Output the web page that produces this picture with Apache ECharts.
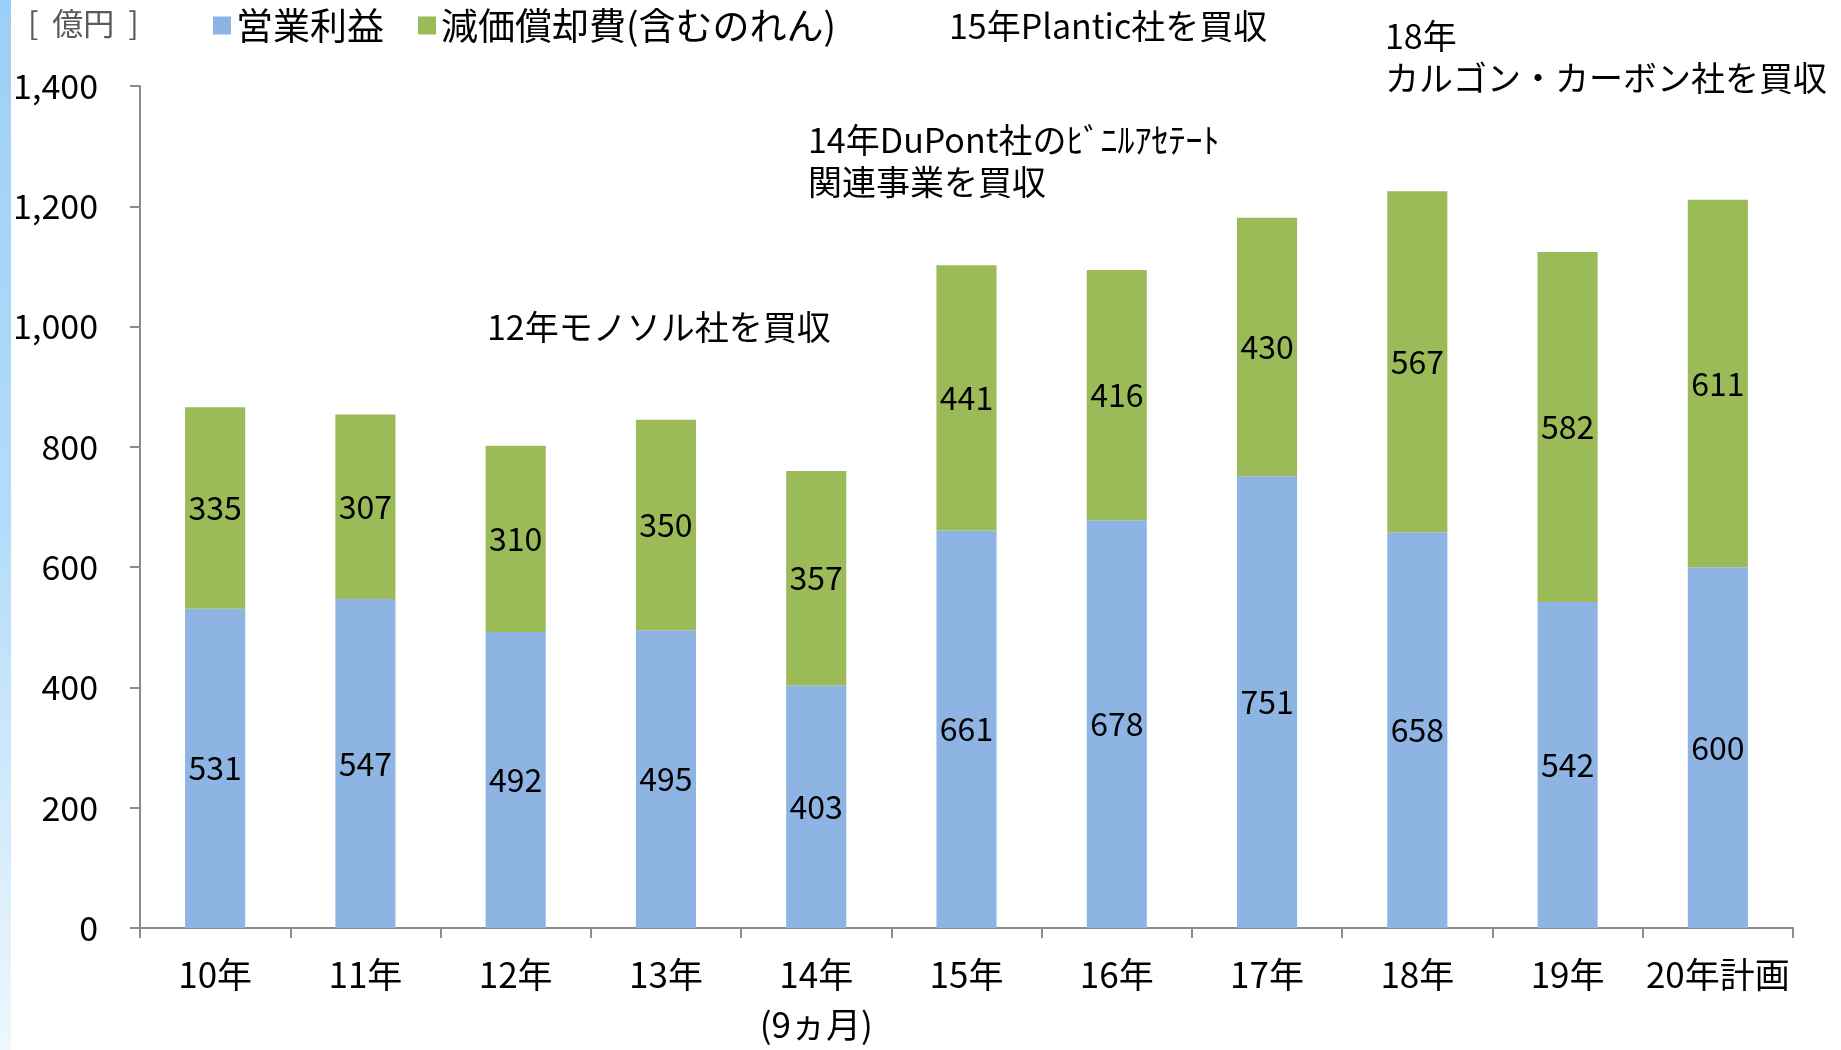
<!DOCTYPE html>
<html>
<head>
<meta charset="utf-8">
<script src="https://cdn.jsdelivr.net/npm/echarts@6/dist/echarts.min.js"></script>
<style>
  html, body { margin: 0; padding: 0; background: #fff; }
  #chart { width: 1841px; height: 1050px; }
</style>
</head>
<body>
<div id="chart"></div>
<script>
var categories = ['10年', '11年', '12年', '13年', '14年\n(9ヵ月)', '15年', '16年', '17年', '18年', '19年', '20年計画']
var operatingProfit = [531, 547, 492, 495, 403, 661, 678, 751, 658, 542, 600]
var depreciation = [335, 307, 310, 350, 357, 441, 416, 430, 567, 582, 611]
var seriesNames = ['営業利益', '減価償却費(含むのれん)']
var yTicks = { min: 0, max: 1400, interval: 200 }

var font = '"Noto Sans CJK JP", "Noto Sans", sans-serif'
var axisColor = '#8c8c8c'

var notes = [
  { text: '15年Plantic社を買収', x: 949, y: 5 },
  { text: '18年\nカルゴン・カーボン社を買収', x: 1385, y: 15 },
  { text: '14年DuPont社のﾋﾞﾆﾙｱｾﾃｰﾄ\n関連事業を買収', x: 808, y: 119 },
  { text: '12年モノソル社を買収', x: 487, y: 306 }
]

var chart = echarts.init(document.getElementById('chart'))

var graphics = [{
  type: 'rect',
  left: 0, top: 0,
  shape: { width: 11, height: 1050 },
  style: {
    fill: new echarts.graphic.LinearGradient(0, 0, 0, 1, [
      { offset: 0, color: '#9ccff7' },
      { offset: 0.5, color: '#b3dcf9' },
      { offset: 1, color: '#eef7fd' }
    ])
  },
  silent: true
}, {
  type: 'text',
  left: 28, top: 8,
  style: { text: '[  億円  ]', fill: '#5a5a5a', font: '31px ' + font }
}]

notes.forEach(function (n) {
  graphics.push({
    type: 'text',
    left: n.x, top: n.y,
    style: { text: n.text, fill: '#000', font: '34px ' + font, lineHeight: 42 }
  })
})

function barLabel() {
  return { show: true, position: 'inside', color: '#000', fontSize: 32, fontFamily: font }
}

var option = {
  animation: false,
  backgroundColor: '#fff',
  textStyle: { fontFamily: font },
  graphic: graphics,
  legend: {
    left: 208, top: 2,
    itemWidth: 18, itemHeight: 18, itemGap: 34, itemTextGap: 10,
    icon: 'rect',
    textStyle: { fontSize: 37, color: '#000', fontFamily: font },
    data: seriesNames
  },
  grid: { left: 140, right: 48, top: 86, bottom: 118, containLabel: false },
  xAxis: {
    type: 'category',
    data: categories,
    axisLine: { lineStyle: { color: axisColor, width: 2 } },
    axisTick: { show: true, length: 10, lineStyle: { color: axisColor, width: 2 } },
    axisLabel: { color: '#000', fontSize: 35, lineHeight: 50, margin: 22, interval: 0 }
  },
  yAxis: {
    type: 'value',
    min: yTicks.min, max: yTicks.max, interval: yTicks.interval,
    axisLine: { show: true, lineStyle: { color: axisColor, width: 2 } },
    axisTick: { show: true, length: 10, lineStyle: { color: axisColor, width: 2 } },
    splitLine: { show: false },
    axisLabel: {
      color: '#000', fontSize: 34, margin: 42,
      formatter: function (v) { return v.toLocaleString('en-US') }
    }
  },
  series: [{
    name: seriesNames[0],
    type: 'bar',
    stack: 'total',
    barWidth: '40%',
    data: operatingProfit,
    itemStyle: { color: '#8eb4e3' },
    label: barLabel()
  }, {
    name: seriesNames[1],
    type: 'bar',
    stack: 'total',
    barWidth: '40%',
    data: depreciation,
    itemStyle: { color: '#9bbb59' },
    label: barLabel()
  }]
}

chart.setOption(option)
</script>
</body>
</html>
